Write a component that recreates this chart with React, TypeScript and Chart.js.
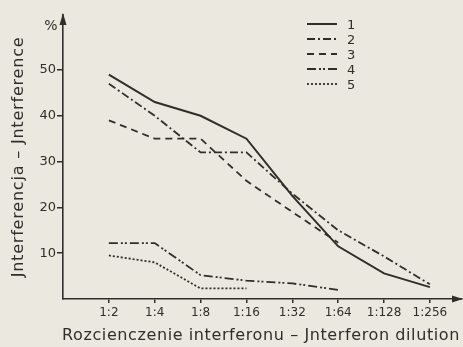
import { useEffect, useRef } from 'react';
import { Chart, registerables } from 'chart.js';

Chart.register(...registerables);

const dilutions = ['1:2', '1:4', '1:8', '1:16', '1:32', '1:64', '1:128', '1:256'];
const positions = [1, 2, 3, 4, 5, 6, 7, 8];
const yTicks = [10, 20, 30, 40, 50];

const series1 = [49, 43, 40, 35, 22.5, 11.5, 5.6, 2.6];
const series2 = [47, 40, 32, 32, 23, 15, 9.3, 3.2];
const series3 = [39, 35, 35, 25.8, 19, 12.3, null, null];
const series4 = [12.2, 12.2, 5.2, 4, 3.4, 2, null, null];
const series5 = [9.5, 8, 2.3, 2.3, null, null, null, null];

const seriesNames = ['1', '2', '3', '4', '5'];
const seriesValues = [series1, series2, series3, series4, series5];
const seriesDash = [[], [8, 3, 2, 3], [7, 5], [9, 3, 2, 2, 2, 3], [2, 2]];
const seriesWidth = [2, 1.8, 1.8, 1.8, 1.8];

const yTitle = 'Jnterferencja – Jnterference';
const xTitle = 'Rozcienczenie interferonu – Jnterferon dilution';

const INK = '#302e2b';
const PAPER = '#ebe8df';
const FONT = '"DejaVu Sans", sans-serif';

const decor = {
  id: 'decor',
  afterDraw(chart: any) {
    const ctx = chart.ctx as any;
    const { left, top, right, bottom } = chart.chartArea;
    ctx.save();
    ctx.fillStyle = INK;
    // arrow heads
    ctx.beginPath();
    ctx.moveTo(left, top - 2);
    ctx.lineTo(left - 3.5, top + 10);
    ctx.lineTo(left + 3.5, top + 10);
    ctx.closePath();
    ctx.fill();
    ctx.beginPath();
    ctx.moveTo(right + 1, bottom);
    ctx.lineTo(right - 10, bottom - 3.5);
    ctx.lineTo(right - 10, bottom + 3.5);
    ctx.closePath();
    ctx.fill();
    // percent sign
    ctx.textAlign = 'center';
    ctx.textBaseline = 'middle';
    ctx.font = `14px ${FONT}`;
    ctx.fillText('%', left - 12, top + 11);
    // y title
    ctx.save();
    ctx.translate(19, (top + bottom) / 2);
    ctx.rotate(-Math.PI / 2);
    ctx.font = `16px ${FONT}`;
    ctx.letterSpacing = '0.8px';
    ctx.fillText(yTitle, 0, 0);
    ctx.restore();
    // x title
    ctx.save();
    ctx.font = `16px ${FONT}`;
    ctx.letterSpacing = '0.6px';
    ctx.fillText(xTitle, 261, 336);
    ctx.restore();
    // legend
    chart.data.datasets.forEach((ds: any, i: number) => {
      const y = 24 + i * 15;
      ctx.strokeStyle = INK;
      ctx.lineWidth = ds.borderWidth;
      ctx.setLineDash(ds.borderDash || []);
      ctx.beginPath();
      ctx.moveTo(307, y);
      ctx.lineTo(337, y);
      ctx.stroke();
      ctx.setLineDash([]);
      ctx.font = `13px ${FONT}`;
      ctx.textAlign = 'left';
      ctx.fillText(ds.label, 347, y + 2);
    });
    ctx.restore();
  },
};

export default function App() {
  const canvasRef = useRef<HTMLCanvasElement | null>(null);

  useEffect(() => {
    if (!canvasRef.current) return;
    const datasets = seriesValues.map((vals, i) => ({
      label: seriesNames[i],
      data: vals
        .map((v, j) => (v == null ? null : { x: positions[j], y: v }))
        .filter((p) => p !== null),
      borderColor: INK,
      borderWidth: seriesWidth[i],
      borderDash: seriesDash[i],
      pointRadius: 0,
      tension: 0,
      fill: false,
    }));

    const chart = new Chart(canvasRef.current, {
      type: 'line',
      data: { datasets: datasets as any },
      options: {
        animation: false,
        responsive: false,
        layout: { padding: { left: 0, top: 15, right: 1, bottom: 0 } },
        plugins: { legend: { display: false }, tooltip: { enabled: false } },
        scales: {
          x: {
            type: 'linear',
            min: 0,
            max: 8.7,
            afterFit(s: any) {
              s.height = 48;
            },
            afterBuildTicks(s: any) {
              s.ticks = positions.map((v) => ({ value: v }));
            },
            ticks: {
              callback: (v: any) => dilutions[positions.indexOf(Number(v))] ?? '',
              font: { size: 12, family: FONT },
              color: INK,
              padding: 3,
              maxRotation: 0,
              autoSkip: false,
            },
            grid: { drawOnChartArea: false, drawTicks: true, tickLength: 4, color: INK, lineWidth: 1.5 },
            border: { display: true, color: INK, width: 1.6 },
          },
          y: {
            type: 'linear',
            min: 0,
            max: 62,
            afterFit(s: any) {
              s.width = 63;
            },
            afterBuildTicks(s: any) {
              s.ticks = yTicks.map((v) => ({ value: v }));
            },
            ticks: {
              font: { size: 13, family: FONT },
              color: INK,
              padding: 1,
            },
            grid: { drawOnChartArea: false, drawTicks: true, tickLength: 6, color: INK, lineWidth: 1.5 },
            border: { display: true, color: INK, width: 1.6 },
          },
        },
      },
      plugins: [decor],
    });
    return () => chart.destroy();
  }, []);

  return (
    <div style={{ position: 'fixed', left: 0, top: 0, width: 463, height: 347, background: PAPER }}>
      <canvas ref={canvasRef} width={463} height={347} style={{ display: 'block' }} />
    </div>
  );
}
